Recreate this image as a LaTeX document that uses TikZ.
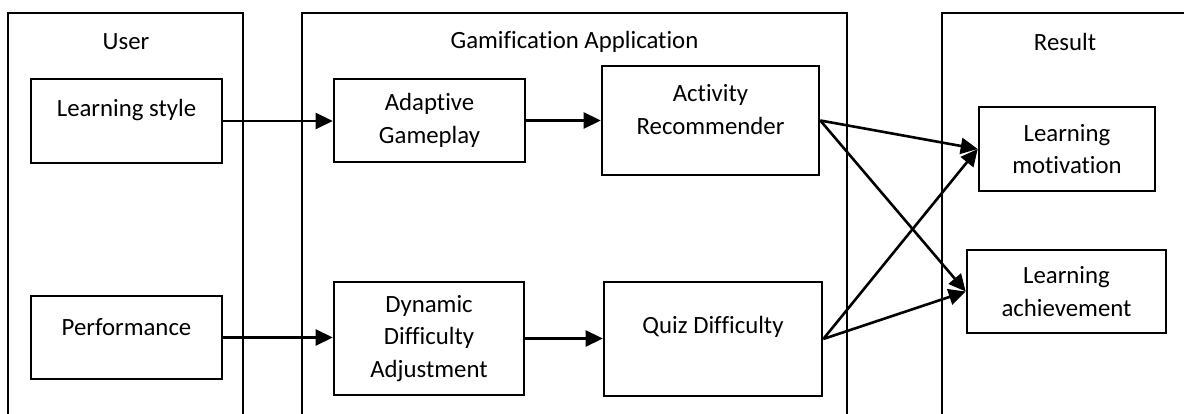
\documentclass[tikz,border=0pt]{standalone}
\usepackage{fontspec}
\setmainfont{Carlito}[Ligatures=NoCommon]
\usetikzlibrary{arrows.meta}
\newcommand{\upby}[2]{\raisebox{#1}[\height][\depth]{#2}}
\begin{document}
\begin{tikzpicture}[x=1pt,y=-1pt,
  box/.style={draw, line width=2.6pt, align=center, inner sep=0pt, font=\fontsize{24.8}{32.5}\selectfont},
  frame/.style={draw, line width=2.3pt},
  title/.style={inner sep=0pt, font=\fontsize{24.8}{32.5}\selectfont},
  conn/.style={line width=2.6pt, -{Triangle[length=17pt,width=16pt]}}
]
\useasboundingbox (0,0) rectangle (1184,414);
\begin{scope}
\clip (0,0) rectangle (1184,414);
\draw[frame] (8,440) -- (8,13) -- (243,13) -- (243,440);
\draw[frame] (302,440) -- (302,13) -- (847,13) -- (847,440);
\draw[frame] (942,440) -- (942,13) -- (1188,13) -- (1188,440);
\end{scope}
\node[title] (tuser) at (126,42) {User};
\node[title] (tgame) at (574.5,42) {Gamification Application};
\node[title] (tres) at (1065,42) {Result};

\node[box, minimum width=191pt, minimum height=84pt] (ls) at (126.5,121) {\upby{11pt}{Learning style}};
\node[box, minimum width=191pt, minimum height=83pt] (perf) at (126.5,337.5) {\upby{10.5pt}{Performance}};

\node[box, minimum width=191pt, minimum height=83pt] (ag) at (429.5,120.5) {Adaptive\\Gameplay};
\node[box, minimum width=190pt, minimum height=113pt] (dda) at (429,338.5) {Dynamic\\Difficulty\\Adjustment};

\node[box, minimum width=217pt, minimum height=109pt] (ar) at (710.5,120.5) {\upby{11pt}{Activity}\\\upby{11pt}{Recommender}};
\node[box, minimum width=218pt, minimum height=114pt] (qd) at (713,339) {\upby{12pt}{Quiz Difficulty}};

\node[box, minimum width=176pt, minimum height=84pt] (lm) at (1067,149) {Learning\\motivation};
\node[box, minimum width=199pt, minimum height=83pt] (la) at (1066.5,291.5) {Learning\\achievement};

\draw[conn] (ls.east) -- (ls.east -| ag.west);
\draw[conn] (perf.east) -- (perf.east -| dda.west);
\draw[conn] (ag.east) -- (ag.east -| ar.west);
\draw[conn] (dda.east) -- (dda.east -| qd.west);
\draw[conn] (ar.east) -- (lm.west);
\draw[conn] (ar.east) -- (la.west);
\draw[conn] (qd.east) -- (lm.west);
\draw[conn] (qd.east) -- (la.west);
\end{tikzpicture}
\end{document}
